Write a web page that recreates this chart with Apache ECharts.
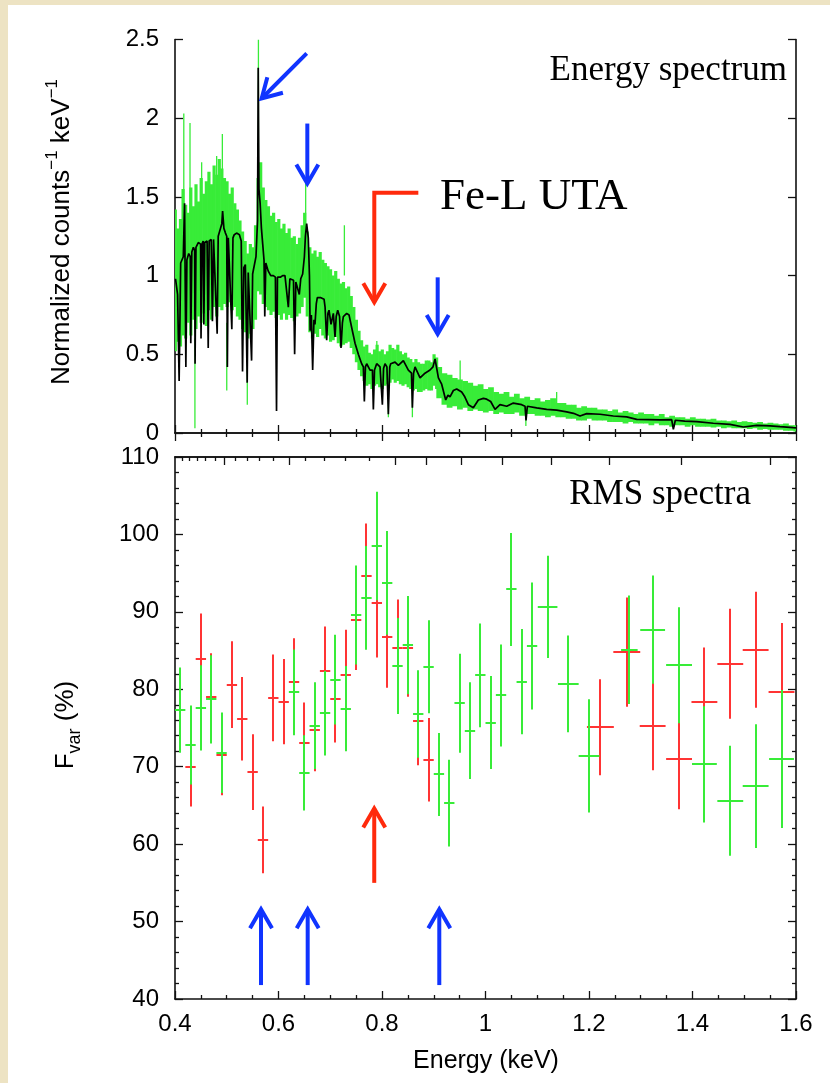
<!DOCTYPE html>
<html>
<head>
<meta charset="utf-8">
<title>Energy spectrum and RMS spectra</title>
<script src="https://cdn.jsdelivr.net/npm/echarts@6/dist/echarts.min.js"></script>
<style>
  body { margin: 0; background: #ede3c3; }
  #paper { position: absolute; left: 8px; top: 5px; width: 822px; height: 1078px; background: #fff; }
  #main { position: absolute; left: 0; top: 0; width: 830px; height: 1083px; }
</style>
</head>
<body>
<div id="paper"></div>
<div id="main"></div>
<script>
// top panel: green data band, fine bins (0.005 keV) then coarse bins (0.01 keV)
const fineE = [0.400,0.405,0.410,0.415,0.420,0.425,0.430,0.435,0.440,0.445,
  0.450,0.455,0.460,0.465,0.470,0.475,0.480,0.485,0.490,0.495,
  0.500,0.505,0.510,0.515,0.520,0.525,0.530,0.535,0.540,0.545,
  0.550,0.555,0.560,0.565,0.570,0.575,0.580,0.585,0.590,0.595,
  0.600,0.605,0.610,0.615,0.620,0.625,0.630,0.635,0.640,0.645,
  0.650,0.655,0.660,0.665,0.670,0.675,0.680,0.685,0.690,0.695,
  0.700,0.705,0.710,0.715,0.720,0.725,0.730,0.735,0.740,0.745,
  0.750,0.755,0.760,0.765,0.770,0.775,0.780,0.785,0.790,0.795,
  0.800,0.805,0.810,0.815,0.820,0.825,0.830,0.835,0.840,0.845,
  0.850,0.855,0.860,0.865,0.870,0.875,0.880,0.885,0.890,0.895,
  0.900,0.905];
const fineLo = [0.52,0.58,0.55,0.62,0.60,0.70,0.62,0.72,0.66,0.74,
  0.70,0.76,0.68,0.78,0.72,0.80,0.74,0.80,0.78,0.82,
  0.80,0.83,0.78,0.80,0.74,0.72,0.66,0.64,0.60,0.63,
  0.66,0.72,0.90,0.88,0.82,0.80,0.78,0.75,0.77,0.73,
  0.75,0.72,0.76,0.72,0.75,0.73,0.71,0.74,0.76,0.80,
  0.86,0.74,0.64,0.60,0.63,0.61,0.66,0.62,0.60,0.62,
  0.58,0.59,0.61,0.57,0.55,0.56,0.57,0.58,0.54,0.50,
  0.45,0.40,0.36,0.33,0.30,0.31,0.28,0.30,0.31,0.29,
  0.28,0.30,0.31,0.32,0.34,0.32,0.33,0.31,0.30,0.31,
  0.29,0.28,0.27,0.28,0.26,0.26,0.27,0.28,0.27,0.27,
  0.30,0.28];
const fineHi = [1.42,1.30,1.36,1.55,1.45,1.40,1.56,1.44,1.58,1.47,
  1.62,1.52,1.60,1.66,1.58,1.70,1.64,1.74,1.68,1.62,
  1.60,1.52,1.56,1.46,1.42,1.35,1.28,1.22,1.14,1.20,
  1.18,1.32,1.62,1.72,1.56,1.48,1.44,1.38,1.40,1.34,
  1.36,1.30,1.33,1.27,1.30,1.24,1.25,1.20,1.24,1.32,
  1.40,1.28,1.18,1.14,1.16,1.12,1.15,1.10,1.08,1.06,
  1.04,1.00,1.03,0.98,0.95,0.96,0.92,0.93,0.87,0.80,
  0.72,0.65,0.59,0.55,0.56,0.51,0.50,0.53,0.56,0.52,
  0.53,0.50,0.52,0.56,0.54,0.53,0.56,0.52,0.50,0.51,
  0.48,0.47,0.45,0.47,0.45,0.44,0.44,0.46,0.46,0.45,
  0.50,0.48];
const coarseE = [0.91,0.92,0.93,0.94,0.95,0.96,0.97,0.98,0.99,1.00,
  1.01,1.02,1.03,1.04,1.05,1.06,1.07,1.08,1.09,1.10,
  1.11,1.12,1.13,1.14,1.15,1.16,1.17,1.18,1.19,1.20,
  1.21,1.22,1.23,1.24,1.25,1.26,1.27,1.28,1.29,1.30,
  1.31,1.32,1.33,1.34,1.35,1.36,1.37,1.38,1.39,1.40,
  1.41,1.42,1.43,1.44,1.45,1.46,1.47,1.48,1.49,1.50,
  1.51,1.52,1.53,1.54,1.55,1.56,1.57,1.58,1.59,1.60];
const coarseLo = [0.22,0.18,0.16,0.17,0.15,0.16,0.14,0.15,0.14,0.13,
  0.14,0.12,0.13,0.12,0.12,0.13,0.11,0.12,0.12,0.11,
  0.11,0.10,0.11,0.10,0.10,0.09,0.09,0.08,0.08,0.09,
  0.08,0.08,0.08,0.07,0.07,0.07,0.06,0.07,0.06,0.06,
  0.06,0.05,0.06,0.05,0.05,0.04,0.05,0.05,0.04,0.05,
  0.04,0.04,0.04,0.035,0.04,0.03,0.035,0.03,0.03,0.03,
  0.025,0.03,0.02,0.025,0.02,0.02,0.02,0.015,0.015,0.01];
const coarseHi = [0.42,0.38,0.37,0.35,0.34,0.33,0.32,0.30,0.31,0.28,
  0.29,0.26,0.25,0.26,0.23,0.25,0.22,0.23,0.21,0.22,
  0.20,0.21,0.22,0.19,0.19,0.18,0.18,0.16,0.17,0.16,
  0.16,0.15,0.15,0.14,0.15,0.13,0.14,0.13,0.12,0.13,
  0.12,0.12,0.11,0.12,0.10,0.11,0.10,0.10,0.09,0.10,
  0.09,0.09,0.085,0.09,0.08,0.08,0.075,0.08,0.07,0.075,
  0.07,0.065,0.07,0.06,0.065,0.06,0.055,0.06,0.05,0.05];
const fineBin = 0.005;
const coarseBin = 0.01;

// single green bins that stick out of the band
const spikeE  = [0.417,0.429,0.4385,0.4515,0.4805,0.4915,0.500,0.5397,0.5612,0.6525,0.7273,0.790,0.8123,0.8587,0.951,1.078,1.1375];
const spikeLo = [1.30,1.30,0.03,1.30,1.40,1.50,0.27,0.18,1.40,1.20,1.00,0.45,0.10,0.10,0.30,0.045,0.18];
const spikeHi = [2.03,1.97,0.60,1.72,1.76,1.90,0.70,0.60,2.50,1.61,1.32,0.585,0.32,0.30,0.46,0.12,0.26];

// black model
const modelE = [0.401,0.405,0.408,0.411,0.416,0.4185,0.4198,0.421,0.423,0.4265,
  0.4295,0.4305,0.4325,0.4355,0.438,0.4388,0.4405,0.445,0.4495,0.4503,
  0.452,0.4545,0.4558,0.4575,0.462,0.4642,0.466,0.470,0.4723,0.4745,
  0.478,0.4815,0.4835,0.487,0.4905,0.492,0.4945,0.4975,0.500,0.5012,
  0.503,0.5065,0.5098,0.512,0.5145,0.519,0.5245,0.528,0.5305,0.533,
  0.536,0.5395,0.5415,0.545,0.548,0.550,0.553,0.5565,0.5595,0.5608,
  0.5622,0.5645,0.567,0.5695,0.572,0.5735,0.5755,0.580,0.585,0.590,
  0.594,0.5962,0.598,0.6035,0.608,0.6125,0.616,0.619,0.622,0.6255,
  0.629,0.6312,0.6335,0.637,0.6402,0.643,0.6467,0.650,0.652,0.6544,
  0.6576,0.6598,0.6612,0.6635,0.666,0.6685,0.6705,0.673,0.675,0.682,
  0.688,0.690,0.6931,0.6955,0.6976,0.7015,0.706,0.7092,0.7115,0.7144,
  0.718,0.7208,0.7235,0.7253,0.7318,0.7363,0.7414,0.7479,0.7543,0.7607,
  0.764,0.7659,0.768,0.7704,0.7769,0.7815,0.7833,0.7855,0.7897,0.7962,
  0.7985,0.8007,0.803,0.8058,0.8095,0.8123,0.815,0.8168,0.8252,0.8316,
  0.8413,0.8509,0.857,0.8587,0.861,0.8638,0.8735,0.8831,0.8928,0.8985,
  0.9025,0.909,0.9153,0.9231,0.9275,0.9314,0.9379,0.9443,0.954,0.960,
  0.9669,0.9765,0.9862,0.9959,1.0023,1.010,1.0184,1.028,1.041,1.0538,
  1.0699,1.0764,1.0783,1.0809,1.0989,1.1182,1.1375,1.1569,1.170,1.1826,
  1.1955,1.2213,1.247,1.2728,1.2921,1.315,1.3372,1.3598,1.363,1.3668,
  1.385,1.4081,1.4403,1.4725,1.4983,1.524,1.5498,1.5691,1.5949,1.600];
const modelF = [0.98,0.88,0.33,1.08,1.12,1.46,1.45,0.42,1.10,1.14,
  1.12,0.57,1.15,1.18,1.16,0.44,1.18,1.21,1.20,0.60,
  1.20,1.22,0.69,1.21,1.22,0.54,1.22,1.23,0.71,1.23,
  1.24,0.63,1.25,1.29,1.33,1.41,1.30,1.27,1.25,0.42,
  1.24,1.24,0.66,1.24,1.26,1.27,1.26,1.22,0.39,1.05,
  1.07,0.32,1.02,1.03,0.46,1.01,1.01,1.12,1.35,2.32,
  1.55,1.46,1.30,1.20,1.10,0.74,1.08,1.03,1.00,1.00,
  0.99,0.14,0.99,0.99,1.00,1.00,0.99,0.80,0.98,0.98,
  0.97,0.50,0.96,0.96,0.88,0.98,1.01,1.12,1.25,1.33,
  1.24,1.00,0.65,0.75,0.40,0.72,0.69,0.82,0.86,0.86,
  0.85,0.80,0.59,0.76,0.78,0.69,0.76,0.61,0.74,0.78,
  0.74,0.54,0.70,0.74,0.76,0.75,0.67,0.57,0.50,0.44,
  0.42,0.20,0.42,0.44,0.40,0.40,0.15,0.40,0.44,0.42,
  0.41,0.18,0.41,0.44,0.42,0.12,0.42,0.44,0.45,0.43,
  0.46,0.40,0.38,0.16,0.38,0.42,0.35,0.38,0.40,0.42,
  0.47,0.35,0.31,0.21,0.24,0.23,0.27,0.28,0.26,0.23,
  0.18,0.16,0.21,0.22,0.215,0.20,0.15,0.18,0.17,0.19,
  0.18,0.17,0.08,0.17,0.16,0.15,0.145,0.134,0.125,0.108,
  0.123,0.119,0.108,0.102,0.087,0.085,0.083,0.085,0.023,0.081,
  0.076,0.072,0.062,0.055,0.038,0.049,0.045,0.040,0.034,0.033];

// bottom panel: RMS spectra (Fvar %, 1 sigma error, half bin width in keV)
const redE = [0.43,0.45,0.47,0.49,0.51,0.53,0.55,0.57,0.59,0.61,
  0.63,0.65,0.67,0.69,0.71,0.73,0.75,0.77,0.79,0.81,
  0.83,0.85,0.87,0.89,1.222,1.273,1.323,1.374,1.423,1.473,1.522,1.572];
const redF = [69.9,83.9,79.05,71.5,80.6,76.2,69.3,60.55,78.9,78.4,
  80.9,73.1,74.7,82.3,78.7,81.9,88.9,94.6,91.1,86.8,
  85.3,85.3,75.9,70.9,75.1,84.8,75.3,71.0,78.4,83.3,85.1,79.65];
const redErr = [5.05,5.9,5.6,5.2,5.6,5.4,4.9,4.3,5.6,5.5,
  5.7,5.2,5.3,5.8,5.56,5.8,6.4,6.8,7.0,6.6,
  6.3,6.25,5.7,5.4,6.2,7.05,5.75,6.5,7.0,7.1,7.5,8.9];
const redHalf = [0.01,0.01,0.01,0.01,0.01,0.01,0.01,0.01,0.01,0.01,
  0.01,0.01,0.01,0.01,0.01,0.01,0.01,0.01,0.01,0.01,
  0.01,0.01,0.01,0.01,0.026,0.026,0.025,0.025,0.025,0.025,0.025,0.025];

const greenE = [0.41,0.43,0.45,0.47,0.49,
  0.63,0.65,0.67,0.69,0.71,0.73,0.75,0.77,0.79,0.81,
  0.83,0.85,0.87,0.89,0.91,0.93,0.95,0.97,0.99,1.01,
  1.03,1.05,1.07,1.09,
  1.12,1.16,1.20,1.278,1.323,1.374,1.423,1.473,1.522,1.572];
const greenF = [77.3,72.8,77.6,78.7,71.8,
  79.6,69.2,75.3,76.9,81.25,77.5,89.6,91.8,98.5,93.75,
  83.0,85.7,76.8,82.9,69.0,65.3,78.2,74.65,81.8,75.7,
  79.2,92.9,81.0,85.6,
  90.65,80.7,71.4,85.1,87.7,83.1,70.3,65.6,67.5,71.0];
const greenErr = [5.5,5.1,5.5,5.7,5.2,
  5.55,4.85,5.6,5.45,5.8,5.5,6.4,6.7,7.0,6.7,
  6.2,6.35,5.65,6.0,5.35,5.6,6.4,6.25,6.7,6.0,
  6.6,7.3,6.8,8.2,
  6.6,6.25,7.3,7.0,7.0,7.5,7.5,7.1,8.0,8.9];
const greenHalf = [0.01,0.01,0.01,0.01,0.01,
  0.01,0.01,0.01,0.01,0.01,0.01,0.01,0.01,0.01,0.01,
  0.01,0.01,0.01,0.01,0.01,0.01,0.01,0.01,0.01,0.01,
  0.01,0.01,0.01,0.01,
  0.019,0.02,0.02,0.016,0.024,0.025,0.024,0.025,0.025,0.024];

// wavelength ticks (Angstrom) on the top edge of the lower panel
const waveMajor = [25,20,15,14,13,12,11,10,9,8];
const waveMinor = [30,29,28,27,26,24,23,22,21,19,18,17,16];
const hc = 12.398;

// annotation arrows, in data units (energy, value)
const blueArrowsTop = [[[0.6545,2.412],[0.5675,2.125]], [[0.6557,1.966],[0.6557,1.585]], [[0.9076,0.989],[0.9076,0.629]]];
const redArrowsTop = [[[0.8702,1.527],[0.7851,1.527],[0.7851,0.831]]];
const blueArrowsBottom = [[[0.5662,41.8],[0.5662,51.6]], [[0.6564,41.8],[0.6564,51.6]], [[0.9107,41.8],[0.9107,51.6]]];
const redArrowsBottom = [[[0.785,55.0],[0.785,64.6]]];

const sans = 'Liberation Sans';
const serif = 'Liberation Serif';
const green = '#38ec38';
const red = '#ff3434';
const blue = '#1034ff';
const redArrow = '#ff2a0c';

let bandRows = fineE.map(function (e, i) { return [e, fineLo[i], fineHi[i], fineBin / 2]; })
  .concat(coarseE.map(function (e, i) { return [e, coarseLo[i], coarseHi[i], coarseBin / 2]; }));

function bandItem(params, api) {
  const p0 = api.coord([api.value(0) - api.value(3), api.value(2)]);
  const p1 = api.coord([api.value(0) + api.value(3), api.value(1)]);
  const cs = params.coordSys;
  const shape = echarts.graphic.clipRectByRect(
    {x: p0[0], y: p0[1], width: p1[0] - p0[0] + 0.6, height: p1[1] - p0[1]},
    {x: cs.x, y: cs.y, width: cs.width, height: cs.height});
  return shape && {type: 'rect', shape: shape, style: {fill: green}};
}

function spikeItem(params, api) {
  const a = api.coord([api.value(0), api.value(1)]);
  const b = api.coord([api.value(0), api.value(2)]);
  return {type: 'line', shape: {x1: a[0], y1: a[1], x2: b[0], y2: b[1]}, style: {stroke: green, lineWidth: 1.3}};
}

// error bars snapped to whole pixels so red and green bins sharing an energy overlap cleanly
function errItem(color) {
  return function (params, api) {
    const e = api.value(0), v = api.value(1), d = api.value(2), w = api.value(3);
    const top = api.coord([e, v + d]), bot = api.coord([e, v - d]);
    const l = api.coord([e - w, v]), r = api.coord([e + w, v]);
    const x = Math.round(top[0]), y = Math.round(l[1]);
    const s = {stroke: color, lineWidth: 2};
    return {type: 'group', children: [
      {type: 'line', shape: {x1: x, y1: top[1], x2: x, y2: bot[1]}, style: s},
      {type: 'line', shape: {x1: l[0], y1: y, x2: r[0], y2: y}, style: s}
    ]};
  };
}

function arrowItem(paths, color) {
  return function (params, api) {
    const pts = paths[params.dataIndex].map(function (p) { return api.coord(p); });
    const tip = pts[pts.length - 1], prev = pts[pts.length - 2];
    const len = Math.hypot(tip[0] - prev[0], tip[1] - prev[1]);
    const ux = (tip[0] - prev[0]) / len, uy = (tip[1] - prev[1]) / len;
    const a = Math.PI / 6, L = 22, c = Math.cos(a), s = Math.sin(a);
    const h1 = [tip[0] - L * (ux * c - uy * s), tip[1] - L * (uy * c + ux * s)];
    const h2 = [tip[0] - L * (ux * c + uy * s), tip[1] - L * (uy * c - ux * s)];
    const st = {stroke: color, lineWidth: 4, fill: null};
    return {type: 'group', children: [
      {type: 'polyline', shape: {points: pts}, style: st},
      {type: 'polyline', shape: {points: [h1, tip, h2]}, style: st}
    ]};
  };
}

function arrowSeries(paths, color, axis) {
  return {
    type: 'custom', xAxisIndex: axis[0], yAxisIndex: axis[1], z: 6, silent: true,
    data: paths.map(function (p) { return p[p.length - 1]; }),
    renderItem: arrowItem(paths, color)
  };
}

const line = {lineStyle: {color: '#111', width: 1.6}};
const tick = {inside: true, length: 8, lineStyle: {color: '#111', width: 1.3}};
const minor = {show: true, splitNumber: 4, length: 4, lineStyle: {color: '#111', width: 1.3}};
const label = {fontFamily: sans, fontSize: 24, color: '#000', margin: 16};
const noLabel = {show: false};

function energyAxis(grid, pos, showLabel) {
  return {
    type: 'value', gridIndex: grid, position: pos, min: 0.4, max: 1.6, interval: 0.2,
    axisLine: line, axisTick: tick, minorTick: minor, splitLine: {show: false},
    axisLabel: showLabel ? Object.assign({}, label, {margin: 13}) : noLabel
  };
}

function waveAxis(list, len) {
  return {
    type: 'value', gridIndex: 1, position: 'top', min: 0.4, max: 1.6,
    axisLine: line, splitLine: {show: false}, axisLabel: noLabel,
    axisTick: {inside: true, length: len, lineStyle: {color: '#111', width: 1.3},
      customValues: list.map(function (w) { return hc / w; })}
  };
}

let myChart = echarts.init(document.getElementById('main'));
myChart.setOption({
  animation: false,
  backgroundColor: 'transparent',
  grid: [
    {left: 175, top: 39.5, width: 621, height: 393.5, containLabel: false, outerBoundsMode: 'none'},
    {left: 175, top: 457, width: 621, height: 542, containLabel: false, outerBoundsMode: 'none'}
  ],
  xAxis: [
    energyAxis(0, 'bottom', false),
    energyAxis(0, 'top', false),
    energyAxis(1, 'bottom', true),
    waveAxis(waveMinor, 4),
    waveAxis(waveMajor, 8)
  ],
  yAxis: [
    {type: 'value', gridIndex: 0, position: 'left', min: 0, max: 2.5, interval: 0.5,
      axisLine: line, axisTick: tick, splitLine: {show: false}, axisLabel: label},
    {type: 'value', gridIndex: 0, position: 'right', min: 0, max: 2.5, interval: 0.5,
      axisLine: line, axisTick: tick, splitLine: {show: false}, axisLabel: noLabel},
    {type: 'value', gridIndex: 1, position: 'left', min: 40, max: 110, interval: 10,
      axisLine: line, axisTick: tick, minorTick: Object.assign({}, minor, {splitNumber: 5}),
      splitLine: {show: false}, axisLabel: label},
    {type: 'value', gridIndex: 1, position: 'right', min: 40, max: 110, interval: 10,
      axisLine: line, axisTick: tick, minorTick: Object.assign({}, minor, {splitNumber: 5}),
      splitLine: {show: false}, axisLabel: noLabel}
  ],
  series: [
    {type: 'custom', xAxisIndex: 0, yAxisIndex: 0, z: 2, silent: true, clip: true,
      data: bandRows, renderItem: bandItem},
    {type: 'custom', xAxisIndex: 0, yAxisIndex: 0, z: 2, silent: true, clip: true,
      data: spikeE.map(function (e, i) { return [e, spikeLo[i], spikeHi[i]]; }), renderItem: spikeItem},
    {type: 'line', xAxisIndex: 0, yAxisIndex: 0, z: 4, silent: true, symbol: 'none',
      lineStyle: {color: '#000', width: 1.7},
      data: modelE.map(function (e, i) { return [e, modelF[i]]; })},
    arrowSeries(blueArrowsTop, blue, [0, 0]),
    arrowSeries(redArrowsTop, redArrow, [0, 0]),
    {type: 'custom', xAxisIndex: 2, yAxisIndex: 2, z: 3, silent: true, clip: true,
      data: redE.map(function (e, i) { return [e, redF[i], redErr[i], redHalf[i]]; }), renderItem: errItem(red)},
    {type: 'custom', xAxisIndex: 2, yAxisIndex: 2, z: 4, silent: true, clip: true,
      data: greenE.map(function (e, i) { return [e, greenF[i], greenErr[i], greenHalf[i]]; }), renderItem: errItem(green)},
    arrowSeries(blueArrowsBottom, blue, [2, 2]),
    arrowSeries(redArrowsBottom, redArrow, [2, 2])
  ],
  graphic: {elements: [
    {type: 'text', x: 787, y: 71, z: 10, style: {text: 'Energy spectrum', fill: '#000',
      font: '35px "' + serif + '"', textAlign: 'right', textVerticalAlign: 'middle'}},
    {type: 'text', x: 440, y: 197, z: 10, style: {text: 'Fe-L UTA', fill: '#000',
      font: '45px "' + serif + '"', textAlign: 'left', textVerticalAlign: 'middle'}},
    {type: 'text', x: 751, y: 495, z: 10, style: {text: 'RMS spectra', fill: '#000',
      font: '35px "' + serif + '"', textAlign: 'right', textVerticalAlign: 'middle'}},
    {type: 'text', x: 62, y: 232, rotation: Math.PI / 2, z: 10, style: {
      text: '{a|Normalized counts}{s|−1}{a| keV}{s|−1}', fill: '#000',
      rich: {a: {fontSize: 26, fontFamily: sans, lineHeight: 36},
        s: {fontSize: 17, fontFamily: sans, lineHeight: 20, verticalAlign: 'top'}},
      textAlign: 'center', textVerticalAlign: 'middle', align: 'center', verticalAlign: 'middle'}},
    {type: 'text', x: 66, y: 725, rotation: Math.PI / 2, z: 10, style: {
      text: '{a|F}{b|var}{a| (%)}', fill: '#000',
      rich: {a: {fontSize: 26, fontFamily: sans, lineHeight: 36},
        b: {fontSize: 18, fontFamily: sans, lineHeight: 20, verticalAlign: 'bottom'}},
      textAlign: 'center', textVerticalAlign: 'middle', align: 'center', verticalAlign: 'middle'}},
    {type: 'text', x: 486, y: 1061, z: 10, style: {text: 'Energy (keV)', fill: '#000',
      font: '25px "' + sans + '"', textAlign: 'center', textVerticalAlign: 'middle'}}
  ]}
});
</script>
</body>
</html>
